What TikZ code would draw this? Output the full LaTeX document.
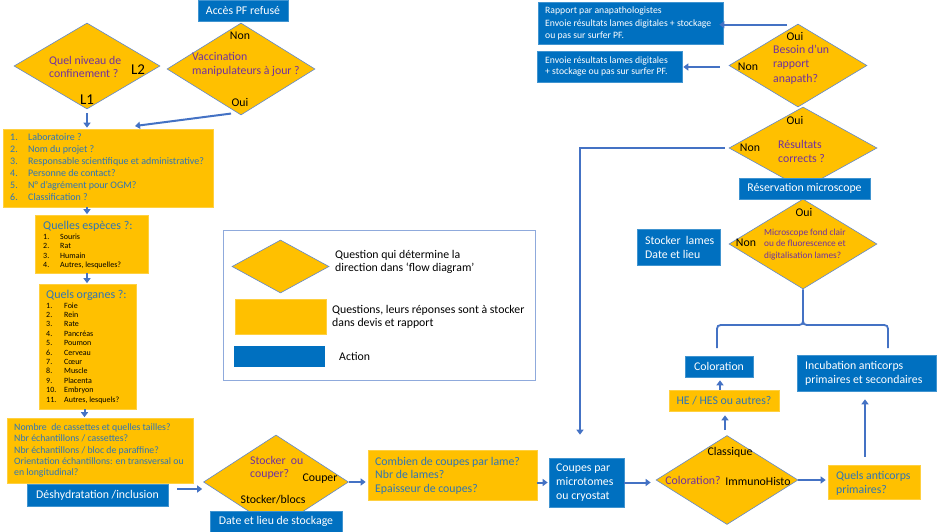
\documentclass[tikz,border=0pt]{standalone}
\usepackage{fontspec}
\setmainfont{Carlito}
\usetikzlibrary{shapes.geometric,arrows.meta}
\definecolor{myyellow}{HTML}{FFC000}
\definecolor{myblue}{HTML}{0070C0}
\definecolor{conn}{HTML}{4472C4}
\definecolor{qpurple}{HTML}{7030A0}
\definecolor{qtext}{HTML}{2E75B6}
\definecolor{legframe}{HTML}{8FAADC}
\newcommand\fs[2]{\fontsize{#1}{#2}\selectfont}
\newcommand\nw[2]{\makebox[#1][l]{#2}}
\begin{document}
\begin{tikzpicture}[x=1pt,y=-1pt,
  ybox/.style 2 args={rectangle,fill=myyellow,draw=myyellow!75!white,line width=0.6pt,inner sep=0,minimum width=#1,minimum height=#2},
  bbox/.style 2 args={rectangle,fill=myblue,draw=myblue!75!white,line width=0.6pt,inner sep=0,minimum width=#1,minimum height=#2,text=white,font=\fs{11.8}{14}},
  dia/.style 2 args={diamond,fill=myyellow,draw=conn!85,line width=0.6pt,inner sep=0,minimum width=#1,minimum height=#2},
  txt/.style={inner sep=0,anchor=west,align=left},
  qt/.style={txt,text=qpurple,font=\fs{11.8}{14}},
  lab/.style={inner sep=0,text=black,font=\fs{11.8}{12}},
  arr/.style={draw=conn,line width=2pt,-{Triangle[length=5pt,width=7pt]}},
  brc/.style={draw=conn,line width=1.8pt}
]
\useasboundingbox (0,0) rectangle (945,532);

% legend
\node[draw=legframe,line width=1pt,fill=white,minimum width=312,minimum height=150,inner sep=0] (legend) at (379,305) {};
\node[dia={97}{53}] (ldia) at (280.5,266.5) {};
\node[ybox={91}{35}] (lyel) at (280.5,316.5) {};
\node[rectangle,fill=myblue,inner sep=0,minimum width=91,minimum height=21] (lblue) at (279.5,356.5) {};
\node[txt,font=\fs{11.8}{12.5}] (ltx1) at (335,262) {Question qui détermine la\\direction dans ‘flow diagram’};
\node[txt,font=\fs{11.8}{13}] (ltx2) at (332,316.5) {Questions, leurs réponses sont à stocker\\dans devis et rapport};
\node[txt,font=\fs{11.8}{12}] (ltx3) at (339,356) {Action};

% top-left
\node[bbox={90}{21}] (acces) at (243,10.5) {Accès PF refusé};
\node[dia={146}{86}] (dia1) at (87,66) {};
\node[qt,font=\fs{11.8}{13}] (dia1t) at (49,66.5) {Quel niveau de\\confinement ?};
\node[lab,font=\fs{15}{15}] (l2) at (138,70) {L2};
\node[lab,font=\fs{15}{15}] (l1) at (87,100) {L1};
\node[dia={148}{92}] (dia2) at (241,69) {};
\node[qt,font=\fs{11.8}{14.5}] (dia2t) at (192,64.5) {Vaccination\\manipulateurs à jour ?};
\node[lab] (dia2non) at (240,36) {Non};
\node[lab] (dia2oui) at (240,102) {Oui};

\node[ybox={210}{78}] (box1) at (108,168) {};
\node[txt,text=qtext,font=\fs{10}{12}] (box1t) at (10,167) {\nw{18pt}{1.}Laboratoire ?\\\nw{18pt}{2.}Nom du projet ?\\\nw{18pt}{3.}Responsable scientifique et administrative?\\\nw{18pt}{4.}Personne de contact?\\\nw{18pt}{5.}N° d’agrément pour OGM?\\\nw{18pt}{6.}Classification ?};

\node[ybox={113}{58}] (especes) at (91.5,244) {};
\node[txt,text=qtext,font=\fs{12}{12}] (espt) at (43,226) {Quelles espèces ?:};
\node[txt,text=black,font=\fs{8}{9.4}] (espl) at (43,251.5) {\nw{17pt}{1.}Souris\\\nw{17pt}{2.}Rat\\\nw{17pt}{3.}Humain\\\nw{17pt}{4.}Autres, lesquelles?};

\node[ybox={97}{125}] (organes) at (87.5,346.5) {};
\node[txt,text=qtext,font=\fs{12}{12}] (orgt) at (46,295) {Quels organes ?:};
\node[txt,text=black,font=\fs{8}{9.4}] (orgl) at (46,353) {\nw{18pt}{1.}Foie\\\nw{18pt}{2.}Rein\\\nw{18pt}{3.}Rate\\\nw{18pt}{4.}Pancréas\\\nw{18pt}{5.}Poumon\\\nw{18pt}{6.}Cerveau\\\nw{18pt}{7.}Cœur\\\nw{18pt}{8.}Muscle\\\nw{18pt}{9.}Placenta\\\nw{18pt}{10.}Embryon\\\nw{18pt}{11.}Autres, lesquels?};

\node[ybox={186}{65}] (cass) at (100,450.5) {};
\node[txt,text=qtext,font=\fs{9.8}{11.3}] (casst) at (14,450.5) {Nombre\ \ de cassettes et quelles tailles?\\Nbr échantillons / cassettes?\\Nbr échantillons / bloc de paraffine?\\Orientation échantillons: en transversal ou\\en longitudinal?};
\node[bbox={141}{22}] (deshyd) at (97.5,495) {Déshydratation /inclusion};

% bottom middle
\node[dia={145}{94}] (dia3) at (276,482) {};
\node[qt,font=\fs{11.8}{13}] (dia3t) at (250,467.5) {Stocker\ \ ou\\couper?};
\node[lab] (couper) at (320,479) {Couper};
\node[lab] (stockb) at (273,500) {Stocker/blocs};
\node[bbox={132}{21}] (date) at (276,521.5) {Date et lieu de stockage};

\node[ybox={169}{50}] (combien) at (452.5,475) {};
\node[txt,text=qtext,font=\fs{11.8}{13.5}] (combt) at (375,475.5) {Combien de coupes par lame?\\Nbr de lames?\\Epaisseur de coupes?};
\node[bbox={75}{49}] (coupes) at (586.5,482.5) {};
\node[txt,text=white,font=\fs{11.8}{14}] (coupt) at (556,483) {Coupes par\\microtomes\\ou cryostat};

% bottom right
\node[dia={142}{89}] (colordia) at (727,480) {};
\node[lab,text=qpurple] (colq) at (693,480) {Coloration?};
\node[lab] (classique) at (730,452) {Classique};
\node[lab] (immuno) at (758,481) {ImmunoHisto};
\node[ybox={92}{34}] (anticorps) at (874,482) {};
\node[txt,text=qtext,font=\fs{11.8}{14}] (antit) at (836,483) {Quels anticorps\\primaires?};
\node[bbox={139}{36}] (incub) at (866.5,373) {};
\node[txt,text=white,font=\fs{11.8}{14}] (incubt) at (805,373) {Incubation anticorps\\primaires et secondaires};
\node[ybox={110}{21}] (he) at (724,400.5) {};
\node[lab,text=qtext] (het) at (724,400.5) {HE / HES ou autres?};
\node[bbox={68}{21}] (coloration) at (719,366.5) {Coloration};

% right column
\node[dia={148}{90}] (micro) at (803,244) {};
\node[txt,text=qpurple,font=\fs{9.3}{11.5}] (microt) at (764,244.5) {Microscope fond clair\\ou de fluorescence et\\digitalisation lames?};
\node[lab] (microoui) at (804,212) {Oui};
\node[lab] (micronon) at (746,243) {Non};
\node[bbox={83}{36}] (stlames) at (678.5,247) {};
\node[txt,text=white,font=\fs{11.8}{14}] (stlamest) at (645,247) {Stocker\ \ lames\\Date et lieu};

\node[dia={148}{82}] (res) at (803,148) {};
\node[qt,font=\fs{11.8}{14}] (rest) at (778,151) {Résultats\\corrects ?};
\node[lab] (resoui) at (795,120) {Oui};
\node[lab] (resnon) at (750,148) {Non};
\node[bbox={131}{21}] (reserv) at (804.5,188.5) {Réservation microscope};

\node[dia={138}{83}] (besoin) at (798,65.5) {};
\node[qt,font=\fs{11.8}{14.5}] (besoint) at (773,64.5) {Besoin d’un\\rapport\\anapath?};
\node[lab] (besoinoui) at (795,36) {Oui};
\node[lab] (besoinnon) at (748,67) {Non};
\node[bbox={185}{42}] (rapport) at (630.5,23) {};
\node[txt,text=white,font=\fs{9.7}{12.5}] (rapportt) at (545,23.5) {Rapport par anapathologistes\\Envoie résultats lames digitales + stockage\\ou pas sur surfer PF.};
\node[bbox={145}{31}] (envoie) at (609.5,66.5) {};
\node[txt,text=white,font=\fs{9.7}{11.5}] (envoiet) at (545,66.5) {Envoie résultats lames digitales\\+ stockage ou pas sur surfer PF.};

% connectors
\coordinate (c2) at (135,126);
\draw[arr,shorten <=4pt,shorten >=1pt] (dia1.south) -- (dia1.south |- box1.north);
\draw[arr,shorten <=2pt] ([xshift=-8pt,yshift=2pt]dia2.south) -- (c2);
\draw[arr,shorten >=0.5pt] (box1.south -| dia1.south) -- (especes.north -| dia1.south);
\draw[arr,shorten >=0.5pt] (especes.south -| dia1.south) -- (organes.north -| dia1.south);
\draw[arr,shorten >=0.5pt] ([xshift=-3pt]organes.south) -- ([xshift=-3pt]organes.south |- cass.north);
\draw[arr] ([xshift=9pt,yshift=6pt]deshyd.east) -- ([xshift=-1pt,yshift=-7pt]dia3.west);
\draw[arr,shorten >=2pt] (dia3.east) -- (dia3.east -| combien.west);
\draw[arr,shorten >=1pt] (combien.east |- coupes.west) -- (coupes.west);
\draw[arr,shorten <=4pt] (res.west) -| ([xshift=-6.5pt,yshift=23pt]coupes.north);
\draw[arr,shorten >=5pt] (coupes.east) -- (coupes.east -| colordia.west);
\draw[arr,shorten >=2pt] (colordia.east) -- (colordia.east -| anticorps.west);
\draw[arr,shorten <=8pt,shorten >=8pt] ([xshift=-9pt]anticorps.north) -- ([xshift=-9pt]anticorps.north |- incub.south);
\draw[arr,shorten <=5pt,shorten >=4pt] ([xshift=-2pt]colordia.north) -- ([xshift=-2pt]colordia.north |- he.south);
\draw[arr,shorten >=3pt] ([xshift=-4pt]he.north) -- ([xshift=-4pt]he.north |- coloration.south);
\draw[arr,shorten >=7pt] ([xshift=-11pt,yshift=-1pt]besoin.north) -- ([xshift=-11pt,yshift=-1pt]besoin.north -| rapport.east);
\draw[arr,shorten >=1pt] ([xshift=-9pt,yshift=-1.5pt]besoin.west) -- ([yshift=-1.5pt]besoin.west -| envoie.east);

% brace
\coordinate (bl) at (717,348);
\coordinate (br) at (888,348);
\draw[brc] (bl) -- (717,333) .. controls (717,325) .. (725,325) -- (795,325) .. controls (803,325) .. (803,317) -- (micro.south);
\draw[brc] (br) -- (888,333) .. controls (888,325) .. (880,325) -- (811,325) .. controls (803,325) .. (803,317);
\end{tikzpicture}
\end{document}
